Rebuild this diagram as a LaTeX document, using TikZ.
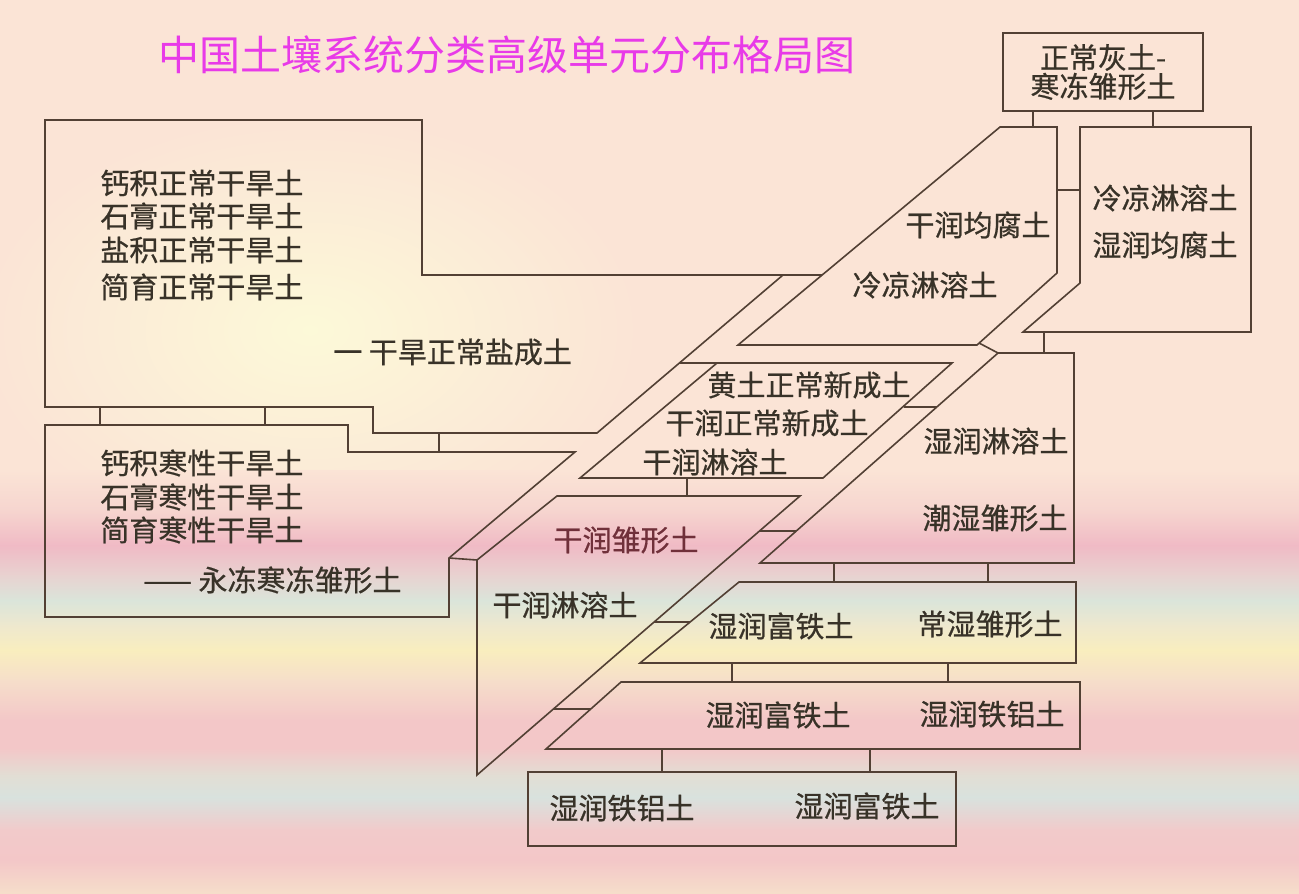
\documentclass[tikz,border=0pt]{standalone}
\usepackage{fontspec}
\newfontfamily\cjk[FakeBold=0.6]{Noto Sans CJK SC}
\newfontfamily\cjktitle{Noto Sans CJK SC}
\usetikzlibrary{positioning}
\definecolor{bgpeach}{RGB}{251,228,214}
\definecolor{glow}{RGB}{252,249,216}
\definecolor{bandA}{RGB}{246,213,207}
\definecolor{bandPink}{RGB}{240,186,197}
\definecolor{bandB}{RGB}{232,210,208}
\definecolor{bandCyan}{RGB}{218,229,218}
\definecolor{bandC}{RGB}{238,232,206}
\definecolor{bandYel}{RGB}{249,238,190}
\definecolor{bandD}{RGB}{246,222,202}
\definecolor{bandPink2}{RGB}{243,199,200}
\definecolor{bandE}{RGB}{226,222,212}
\definecolor{bandCyan2}{RGB}{216,226,222}
\definecolor{bandPink3}{RGB}{242,202,202}
\definecolor{edge}{RGB}{82,64,52}
\definecolor{ink}{RGB}{56,50,40}
\definecolor{inkred}{RGB}{112,48,58}
\definecolor{titlemag}{RGB}{232,58,232}
\tikzset{
  zone/.style={draw=edge, line width=0.8pt, line join=miter},
  link/.style={draw=edge, line width=0.8pt},
  lbl/.style={font=\cjk\fontsize{14.5}{17}\selectfont, text=ink, inner sep=0pt},
  ttl/.style={font=\cjktitle\fontsize{20.5}{24}\selectfont, text=titlemag, inner sep=0pt},
  hbox/.style={draw=edge, line width=0.8pt, minimum width=100pt, minimum height=39pt,
    inner sep=0pt, align=center, text=ink, font=\cjk\fontsize{14.5}{12}\selectfont}
}

\begin{document}
\begin{tikzpicture}[x=0.5pt, y=-0.5pt]
  \useasboundingbox (0,0) rectangle (1299,893);
  % background
  \fill[bgpeach] (0,0) rectangle (1299,893);
  \shade[inner color=glow, outer color=bgpeach] (310,330) ellipse [x radius=165pt, y radius=108pt];
  \foreach \ya/\ca/\yb/\cb in {470/bgpeach/510/bandA, 510/bandA/545/bandPink,
      545/bandPink/575/bandB, 575/bandB/600/bandCyan, 600/bandCyan/625/bandC,
      625/bandC/650/bandYel, 650/bandYel/680/bandD, 680/bandD/720/bandPink2,
      720/bandPink2/748/bandPink2, 748/bandPink2/775/bandE, 775/bandE/797/bandCyan2,
      797/bandCyan2/830/bandPink3, 830/bandPink3/860/bandPink2, 860/bandPink2/893/bandD}
    \shade[top color=\ca, bottom color=\cb] (0,\ya) rectangle (1299,\yb+1);

  \node[ttl] (title) at (507,55) {中国土壤系统分类高级单元分布格局图};

  % zones
  \draw[zone] (822,275) -- (422,275) -- (422,120) -- (45,120) -- (45,407) -- (373,407)
    -- (373,433) -- (597,433) -- (783,275);
  \draw[zone] (575,452) -- (348,452) -- (348,425) -- (45,425) -- (45,617) -- (449,617)
    -- (449,558) -- cycle;
  \draw[zone] (477,560) -- (557,496) -- (800,496) -- (477,775) -- cycle;
  \draw[zone] (717,363) -- (952,363) -- (823,478) -- (580,478) -- cycle;
  \draw[zone] (1000,127) -- (1057,127) -- (1057,273) -- (977,345) -- (738,345) -- cycle;
  \draw[zone] (1080,127) -- (1251,127) -- (1251,332) -- (1023,332) -- (1080,283) -- cycle;
  \draw[zone] (998,353) -- (1074,353) -- (1074,563) -- (760,563) -- cycle;
  \draw[zone] (739,582) -- (1076,582) -- (1076,663) -- (640,663) -- cycle;
  \draw[zone] (621,682) -- (1080,682) -- (1080,749) -- (546,749) -- cycle;
  \node[hbox, minimum width=214pt, minimum height=37pt] (ferralic) at (742,809) {};
  \node[hbox] (top) at (1103,72) {正常灰土-\\寒冻雏形土};

  % links
  \coordinate (t1) at (1033,127);
  \coordinate (t2) at (1153,127);
  \draw[link] (t1 |- top.south) -- (t1);
  \draw[link] (t2 |- top.south) -- (t2);
  \coordinate (b1) at (662,749);
  \coordinate (b2) at (870,749);
  \draw[link] (b1) -- (b1 |- ferralic.north);
  \draw[link] (b2) -- (b2 |- ferralic.north);
  \draw[link] (100,407) -- (100,425);
  \draw[link] (265,407) -- (265,425);
  \draw[link] (439,433) -- (439,452);
  \draw[link] (449,558) -- (477,560);
  \draw[link] (680,363) -- (717,363);
  \draw[link] (979,343) -- (998,353);
  \draw[link] (1057,190) -- (1080,190);
  \draw[link] (1044,332) -- (1044,353);
  \draw[link] (904,407) -- (937,407);
  \draw[link] (687,478) -- (687,496);
  \draw[link] (759,531) -- (796,531);
  \draw[link] (834,563) -- (834,582);
  \draw[link] (988,563) -- (988,582);
  \draw[link] (654,622) -- (690,622);
  \draw[link] (732,663) -- (732,682);
  \draw[link] (948,663) -- (948,682);
  \draw[link] (553,709) -- (591,709);

  % labels
  \node[lbl, anchor=west] (d1) at (100,183) {钙积正常干旱土};
  \node[lbl, anchor=west] (d2) at (100,216) {石膏正常干旱土};
  \node[lbl, anchor=west] (d3) at (100,250) {盐积正常干旱土};
  \node[lbl, anchor=west] (d4) at (100,287) {简育正常干旱土};
  \node[lbl, anchor=west] (d5) at (333,352) {一 干旱正常盐成土};
  \node[lbl, anchor=west] (c1) at (100,463) {钙积寒性干旱土};
  \node[lbl, anchor=west] (c2) at (100,497) {石膏寒性干旱土};
  \node[lbl, anchor=west] (c3) at (100,530) {简育寒性干旱土};
  \node[lbl, anchor=west] (c4) at (143,580) {—— 永冻寒冻雏形土};
  \node[lbl] (k1) at (978,225) {干润均腐土};
  \node[lbl] (k2) at (925,285) {冷凉淋溶土};
  \node[lbl] (h1) at (1165,198) {冷凉淋溶土};
  \node[lbl] (h2) at (1165,245) {湿润均腐土};
  \node[lbl] (l1) at (809,385) {黄土正常新成土};
  \node[lbl] (l2) at (767,423) {干润正常新成土};
  \node[lbl] (l3) at (715,462) {干润淋溶土};
  \node[lbl, text=inkred] (s1) at (626,540) {干润雏形土};
  \node[lbl] (s2) at (565,605) {干润淋溶土};
  \node[lbl] (u1) at (996,441) {湿润淋溶土};
  \node[lbl] (u2) at (995,518) {潮湿雏形土};
  \node[lbl] (f1) at (781,626) {湿润富铁土};
  \node[lbl] (f2) at (990,624) {常湿雏形土};
  \node[lbl] (g1) at (778,715) {湿润富铁土};
  \node[lbl] (g2) at (992,714) {湿润铁铝土};
  \node[lbl] (r1) at (622,808) {湿润铁铝土};
  \node[lbl] (r2) at (867,806) {湿润富铁土};
\end{tikzpicture}
\end{document}
